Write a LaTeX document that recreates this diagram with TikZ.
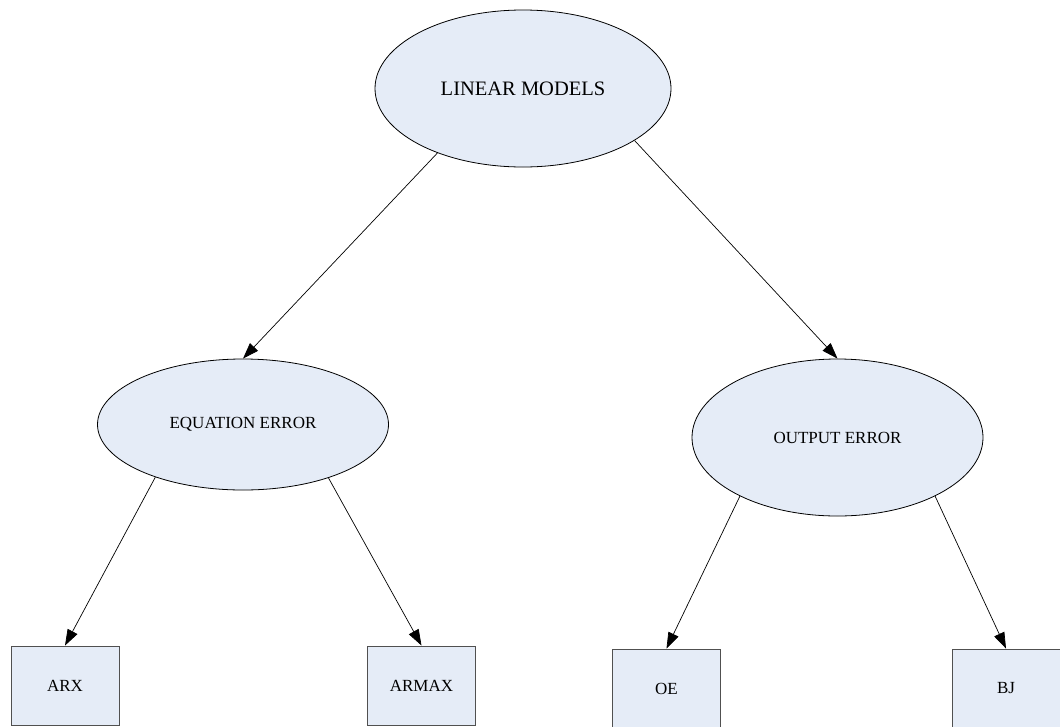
\documentclass[tikz,border=0pt]{standalone}
\usepackage{fontspec}
\setmainfont{Liberation Serif}
\usetikzlibrary{shapes.geometric,arrows.meta}
\definecolor{nodefill}{HTML}{E5ECF7}
\definecolor{boxline}{HTML}{505050}
\tikzset{
  oval/.style={ellipse, draw=black, fill=nodefill, line width=0.8pt, inner sep=0pt},
  leafbox/.style={rectangle, draw=boxline, fill=nodefill, line width=0.9pt,
    minimum width=108pt, minimum height=79pt, inner sep=0pt, font=\fontsize{17}{20}\selectfont},
  link/.style={-{Triangle[length=16pt,width=11pt]}, line width=0.7pt, black}
}
\begin{document}
\begin{tikzpicture}[x=1pt,y=-1pt]
  \useasboundingbox[fill=white] (0,0) rectangle (1060,726);
  % root and the two error classes
  \node[oval, minimum width=296pt, minimum height=157pt, font=\fontsize{20.5}{24}\selectfont]
    (root) at (523,88.5) {LINEAR MODELS};
  \node[oval, minimum width=291pt, minimum height=131pt, font=\fontsize{17}{20}\selectfont]
    (eqerr) at (243,424.5) {EQUATION ERROR};
  \node[oval, minimum width=291pt, minimum height=157pt, font=\fontsize{17}{20}\selectfont]
    (outerr) at (837.5,437.5) {OUTPUT ERROR};
  % model structures
  \node[leafbox] (arx)   at (65,685.5)    {ARX};
  \node[leafbox] (armax) at (421.5,685.5) {ARMAX};
  \node[leafbox] (oe)    at (666.5,688.5) {OE};
  \node[leafbox] (bj)    at (1006,688.5)  {BJ};
  % connectors
  \draw[link] (root.217.9) -- (eqerr.north);
  \draw[link] (root.335.5) -- (outerr.north);
  \draw[link] (eqerr.211.3) -- (arx.north);
  \draw[link] (eqerr.328.1) -- (armax.north);
  \draw[link] (outerr.211.7) -- (oe.north);
  \draw[link] (outerr.329.6) -- (bj.north);
\end{tikzpicture}
\end{document}
